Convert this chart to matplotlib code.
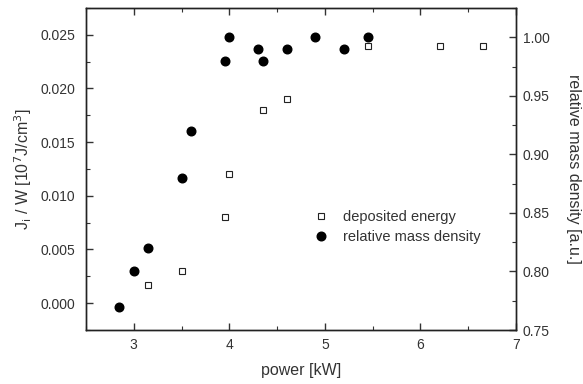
import matplotlib
matplotlib.use("Agg")
import matplotlib.pyplot as plt
from matplotlib.ticker import MultipleLocator

# Data
energy_power = [3.15, 3.5, 3.95, 4.0, 4.35, 4.6, 5.45, 6.2, 6.65]
energy_values = [0.0017, 0.003, 0.008, 0.012, 0.018, 0.019, 0.024, 0.024, 0.024]

density_power = [2.85, 3.0, 3.15, 3.5, 3.6, 3.95, 4.0, 4.3, 4.35, 4.6, 4.9, 5.2, 5.45]
density_values = [0.77, 0.80, 0.82, 0.88, 0.92, 0.98, 1.00, 0.99, 0.98, 0.99, 1.00, 0.99, 1.00]

xticks = [3, 4, 5, 6, 7]

plt.rcParams['font.family'] = ['Liberation Sans', 'DejaVu Sans']

fig = plt.figure(figsize=(5.83, 3.84), dpi=100)
ax = fig.add_axes([86/583, 1-330/384, (516-86)/583, (330-8)/384])
ax2 = ax.twinx()

ax.plot(energy_power, energy_values, ls='none', marker='s', ms=4.2, mfc='white',
        mec='#222222', mew=0.8, label='deposited energy')
ax2.plot(density_power, density_values, ls='none', marker='o', ms=6.2, mfc='black',
         mec='black', label='relative mass density')

ax.set_xlim(2.5, 7)
ax.set_ylim(-0.0025, 0.0275)
ax2.set_ylim(0.75, 1.025)

ax.set_xticks(xticks)
ax.xaxis.set_minor_locator(MultipleLocator(0.5))
ax.yaxis.set_major_locator(MultipleLocator(0.005))
ax.yaxis.set_minor_locator(MultipleLocator(0.0025))
ax2.yaxis.set_major_locator(MultipleLocator(0.05))
ax2.yaxis.set_minor_locator(MultipleLocator(0.025))
ax.yaxis.set_major_formatter(plt.FuncFormatter(lambda v, p: f"{v:.3f}"))
ax2.yaxis.set_major_formatter(plt.FuncFormatter(lambda v, p: f"{v:.2f}"))

tc = '#333333'
fs_tick = 10
ax.tick_params(axis='both', which='major', direction='in', length=5, width=1, labelsize=fs_tick,
               top=True, labelcolor=tc, color=tc)
ax.tick_params(axis='x', which='major', pad=6)
ax.tick_params(axis='y', which='major', pad=8)
ax.tick_params(axis='both', which='minor', direction='in', length=3, width=0.8,
               top=True, color=tc)
ax.tick_params(axis='y', which='both', right=False)
ax2.tick_params(axis='y', which='major', direction='in', length=5, width=1, labelsize=fs_tick,
                labelcolor=tc, color=tc, pad=5)
ax2.tick_params(axis='y', which='minor', direction='in', length=3, width=0.8, color=tc)

for a in (ax, ax2):
    for s in a.spines.values():
        s.set_linewidth(1.0)
        s.set_color('#222222')

fs_lab = 11.5
ax.set_xlabel('power [kW]', fontsize=fs_lab, color=tc, labelpad=8)
ax.set_ylabel(r'J$_{\rm i}$ / W [10$^{7}$J/cm$^{3}$]', fontsize=fs_lab, color=tc, labelpad=4)
ax2.set_ylabel('relative mass density [a.u.]', fontsize=fs_lab, color=tc, rotation=-90,
               labelpad=22)

h1, l1 = ax.get_legend_handles_labels()
h2, l2 = ax2.get_legend_handles_labels()
leg = ax2.legend(h1 + h2, l1 + l2, frameon=False, fontsize=10.5, loc='center left',
                 bbox_to_anchor=(0.5, 0.32), handlelength=1.0, handletextpad=1.0,
                 labelspacing=0.45, markerscale=1.0)
for t in leg.get_texts():
    t.set_color(tc)

fig.savefig('out.png', dpi=100)
